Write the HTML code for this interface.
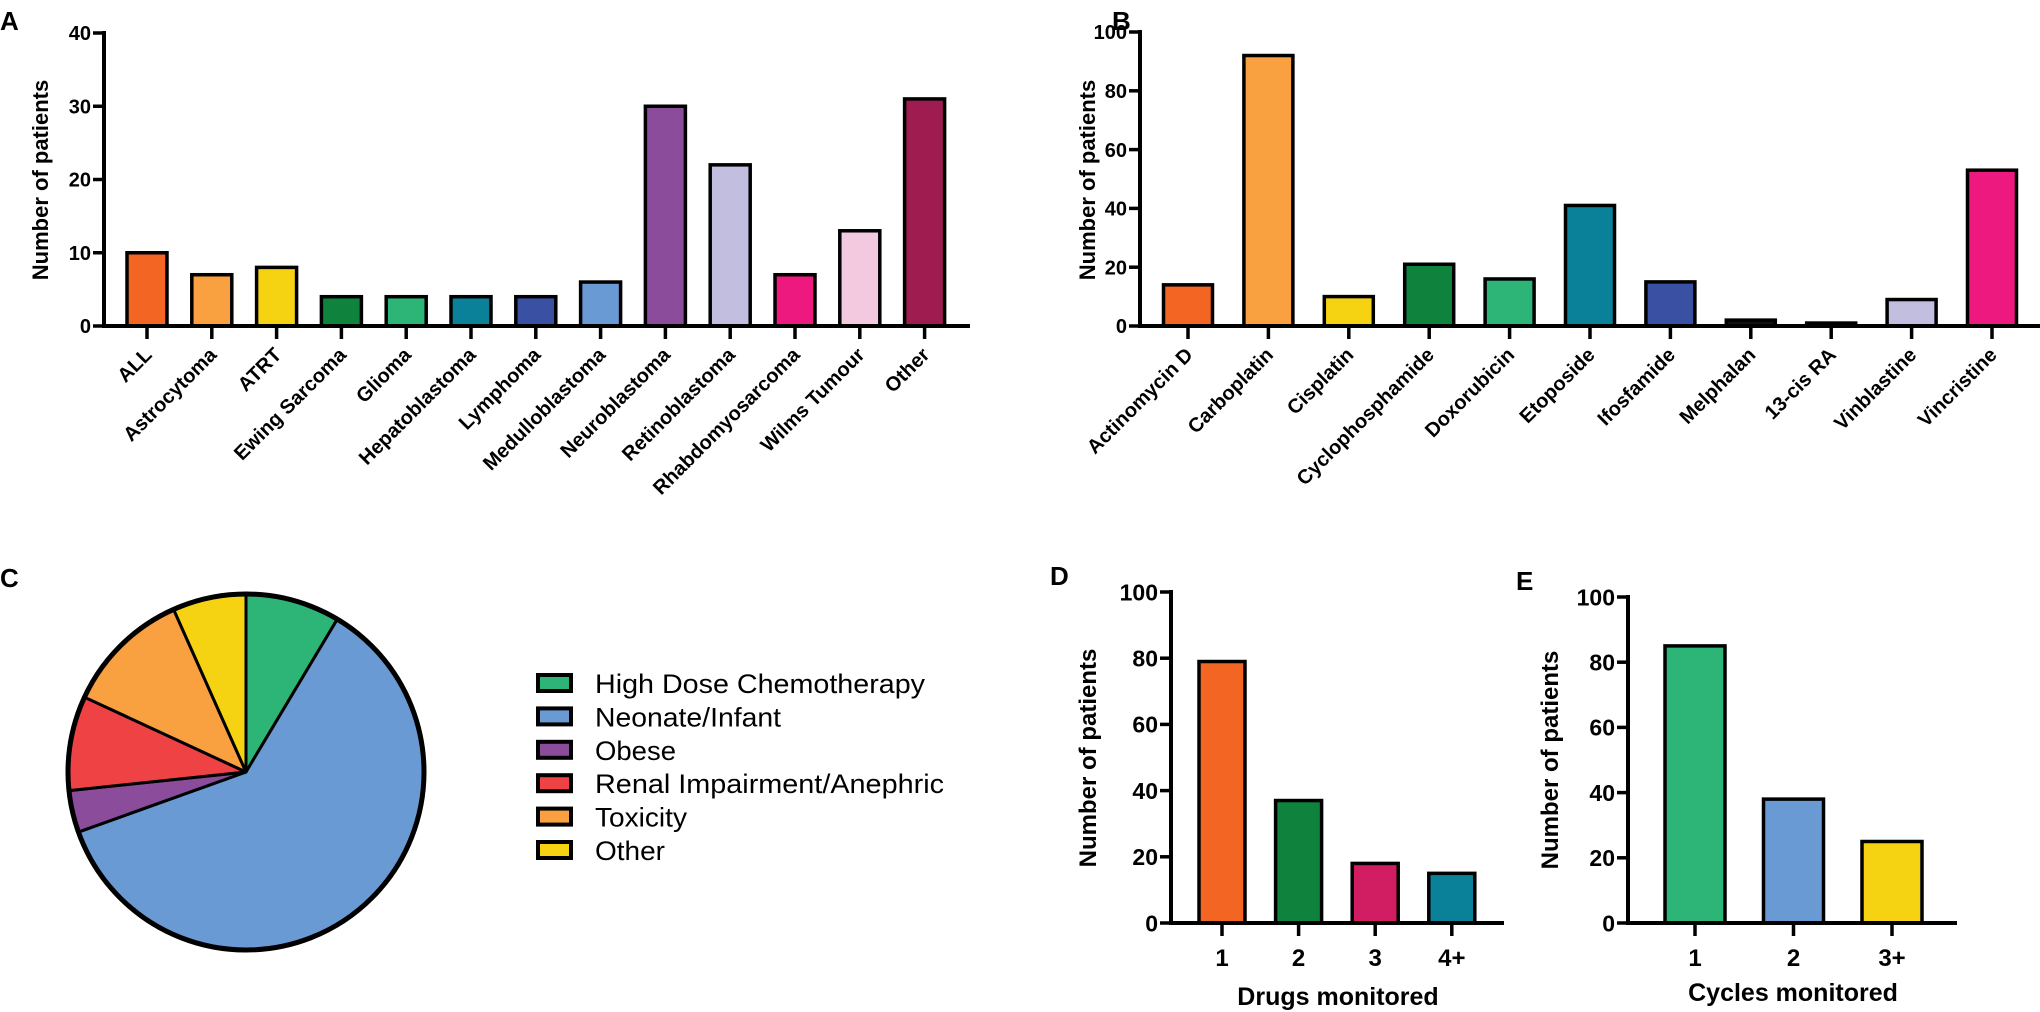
<!DOCTYPE html>
<html><head><meta charset="utf-8"><style>
body{margin:0;background:#fff;}
svg{display:block;font-family:"Liberation Sans",Arial,sans-serif;}
</style></head><body>
<svg id="fig" width="2040" height="1012" viewBox="0 0 2040 1012" xmlns="http://www.w3.org/2000/svg">
<text x="0" y="30" font-size="26" font-weight="bold">A</text>
<text x="1112" y="30" font-size="26" font-weight="bold">B</text>
<text x="0" y="587" font-size="26" font-weight="bold">C</text>
<text x="1050" y="585" font-size="26" font-weight="bold">D</text>
<text x="1516" y="590" font-size="26" font-weight="bold">E</text>
</svg>
<script>
const aCategories=["ALL","Astrocytoma","ATRT","Ewing Sarcoma","Glioma","Hepatoblastoma","Lymphoma","Medulloblastoma","Neuroblastoma","Retinoblastoma","Rhabdomyosarcoma","Wilms Tumour","Other"];
const aValues=[10,7,8,4,4,4,4,6,30,22,7,13,31];
const aTicks=[0,10,20,30,40];
const bCategories=["Actinomycin D","Carboplatin","Cisplatin","Cyclophosphamide","Doxorubicin","Etoposide","Ifosfamide","Melphalan","13-cis RA","Vinblastine","Vincristine"];
const bValues=[14,92,10,21,16,41,15,2,1,9,53];
const bTicks=[0,20,40,60,80,100];
const dCategories=["1","2","3","4+"];
const dValues=[79,37,18,15];
const eCategories=["1","2","3+"];
const eValues=[85,38,25];
const deTicks=[0,20,40,60,80,100];
const pieLabels=["High Dose Chemotherapy","Neonate/Infant","Obese","Renal Impairment/Anephric","Toxicity","Other"];
const pieValues=[9,64,4,9,12,7];

const NS="http://www.w3.org/2000/svg";
const svg=document.getElementById('fig');
function mk(tag,attrs,parent){const e=document.createElementNS(NS,tag);for(const k in attrs)e.setAttribute(k,attrs[k]);(parent||svg).appendChild(e);return e;}

function barChart(o){
  const g=mk('g',{});
  
  
  const max=o.ticks[o.ticks.length-1];
  const y=v=>o.y0-(v/max)*(o.y0-o.yTop);
  const x=i=>o.x1+i*o.step;
  o.values.forEach((v,i)=>{
    const r=mk('rect',{x:x(i)-o.bw/2,y:y(v),width:o.bw,height:o.y0-y(v),fill:o.colors[i],stroke:'#000','stroke-width':3.5},g);
    
    
    const t=mk('line',{x1:x(i),x2:x(i),y1:o.y0,y2:o.y0+13,stroke:'#000','stroke-width':3.5},g);
    
    
    let lab;
    if(o.rot){
      lab=mk('text',{x:x(i)+6,y:o.y0+30,'text-anchor':'end','font-size':o.lf,'font-weight':'bold',transform:`rotate(-45 ${x(i)+6} ${o.y0+30})`},g);
    }else{
      lab=mk('text',{x:x(i),y:o.y0+43,'text-anchor':'middle','font-size':o.lf,'font-weight':'bold'},g);
    }
    lab.textContent=o.cats[i];
    
    
  });
  o.ticks.forEach(v=>{
    const t=mk('line',{x1:o.ax-11,x2:o.ax,y1:y(v),y2:y(v),stroke:'#000','stroke-width':3.5},g);
    
    
    const l=mk('text',{x:o.ax-13,y:y(v)+o.tf*0.36,'text-anchor':'end','font-size':o.tf,'font-weight':'bold'},g);
    l.textContent=v;
    
    
  });
  const ya=mk('line',{x1:o.ax,x2:o.ax,y1:o.yTop-2,y2:o.y0+2,stroke:'#000','stroke-width':4},g);
  
  
  const xa=mk('line',{x1:o.ax-2,x2:o.xEnd,y1:o.y0,y2:o.y0,stroke:'#000','stroke-width':4},g);
  
  
  const yt=mk('text',{x:o.ytx,y:o.yty,'text-anchor':'middle','font-size':o.ytf,'font-weight':'bold',transform:`rotate(-90 ${o.ytx} ${o.yty})`},g);
  yt.textContent='Number of patients';
  
  
  if(o.xtitle){
    const xt=mk('text',{x:o.xtx,y:o.xty,'text-anchor':'middle','font-size':25,'font-weight':'bold'},g);
    xt.textContent=o.xtitle;
    
    
  }
}

barChart({name:'chart-a-tumour-type',cats:aCategories,values:aValues,ticks:aTicks,
  colors:["#F26522","#F9A040","#F6D312","#0F833D","#2DB577","#0A8099","#3A51A3","#6A9AD3","#8A4C9B","#C2BEDF","#ED197E","#F2C9DF","#9E1C4F"],
  ax:104,y0:326,yTop:33,x1:147,step:64.8,bw:40,xEnd:970,rot:true,lf:20,tf:20,ytx:48,yty:180,ytf:22});
barChart({name:'chart-b-drugs',cats:bCategories,values:bValues,ticks:bTicks,
  colors:["#F26522","#F9A040","#F6D312","#0F833D","#2DB577","#0A8099","#3A51A3","#111111","#222222","#C2BEDF","#ED197E"],
  ax:1140,y0:326,yTop:32,x1:1188,step:80.4,bw:49,xEnd:2040,rot:true,lf:20,tf:20,ytx:1095,yty:180,ytf:22});
barChart({name:'chart-d-drugs-monitored',cats:dCategories,values:dValues,ticks:deTicks,
  colors:["#F26522","#0F833D","#D11E63","#0A8099"],
  ax:1171,y0:923,yTop:592,x1:1222,step:76.6,bw:46,xEnd:1504,rot:false,lf:24,tf:23,ytx:1096,yty:758,ytf:24,
  xtitle:'Drugs monitored',xtx:1338,xty:1005});
barChart({name:'chart-e-cycles-monitored',cats:eCategories,values:eValues,ticks:deTicks,
  colors:["#2DB577","#6A9AD3","#F6D312"],
  ax:1628,y0:923,yTop:597,x1:1695,step:98.5,bw:60,xEnd:1957,rot:false,lf:24,tf:23,ytx:1558,yty:760,ytf:24,
  xtitle:'Cycles monitored',xtx:1793,xty:1001});

// Pie
const pieColors=["#2DB577","#6A9AD3","#8A4C9B","#EF4245","#F9A040","#F6D312"];
const cx=246,cy=772,R=178;
const pg=mk('g',{});


const total=pieValues.reduce((a,b)=>a+b,0);
let acc=0;
pieValues.forEach((v,i)=>{
  const a0=acc/total*2*Math.PI;acc+=v;const a1=acc/total*2*Math.PI;
  const p0=[cx+R*Math.sin(a0),cy-R*Math.cos(a0)],p1=[cx+R*Math.sin(a1),cy-R*Math.cos(a1)];
  const large=(a1-a0)>Math.PI?1:0;
  const p=mk('path',{d:`M${cx},${cy}L${p0[0]},${p0[1]}A${R},${R} 0 ${large} 1 ${p1[0]},${p1[1]}Z`,fill:pieColors[i],stroke:'#000','stroke-width':3,'stroke-linejoin':'round'},pg);
  
  
});
const rim=mk('circle',{cx:cx,cy:cy,r:R,fill:'none',stroke:'#000','stroke-width':5},pg);


const legendWidths=[330,186,81,349,92,70];
const lg=mk('g',{});


pieLabels.forEach((l,i)=>{
  const yy=683+i*33.4;
  const s=mk('rect',{x:538,y:yy-8,width:33,height:16,fill:pieColors[i],stroke:'#000','stroke-width':4},lg);
  
  
  const t=mk('text',{x:595,y:yy+10,'font-size':27,textLength:legendWidths[i],lengthAdjust:'spacingAndGlyphs'},lg);
  t.textContent=l;
  
  
});
</script>
</body></html>
